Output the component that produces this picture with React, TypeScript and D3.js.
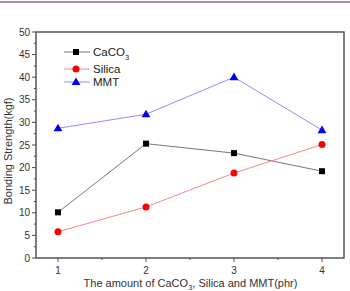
import React from "react";
import * as d3 from "d3";

const amounts = [1, 2, 3, 4];
const caco3 = [10.1, 25.3, 23.2, 19.2];
const silica = [5.8, 11.3, 18.8, 25.1];
const mmt = [28.7, 31.8, 40.0, 28.3];
const yTicks = [0, 5, 10, 15, 20, 25, 30, 35, 40, 45, 50];
const xTicks = [1, 2, 3, 4];

const W = 350;
const H = 291;
const left = 36;
const right = 344;
const top = 32;
const bottom = 258;

export default function App() {
  const x = d3.scaleLinear().domain([0.75, 4.25]).range([left, right]);
  const y = d3.scaleLinear().domain([0, 50]).range([bottom, top]);
  const line = d3
    .line<number>()
    .x((_, i) => x(amounts[i]))
    .y((d) => y(d));

  const yMinor = d3.range(2.5, 50, 5);
  const xMinor = [1.5, 2.5, 3.5];
  const font = "Arial, 'Liberation Sans', sans-serif";
  const axisColor = "#4a4a4a";

  const series = [
    { name: "CaCO", sub: "3", data: caco3, line: "#777", fill: "#000", shape: "square" },
    { name: "Silica", sub: "", data: silica, line: "#f28a8a", fill: "#ff0000", shape: "circle" },
    { name: "MMT", sub: "", data: mmt, line: "#8f8fef", fill: "#0000ee", shape: "triangle" },
  ];

  const marker = (shape: string, cx: number, cy: number, fill: string, key: string) => {
    if (shape === "square")
      return <rect key={key} x={cx - 3} y={cy - 3} width={6} height={6} fill={fill} />;
    if (shape === "circle") return <circle key={key} cx={cx} cy={cy} r={3.5} fill={fill} />;
    const tri = d3.symbol(d3.symbolTriangle, 34)();
    return <path key={key} d={tri ?? ""} transform={`translate(${cx},${cy + 0.5})`} fill={fill} />;
  };

  const legendY = [52, 69, 82];

  return (
    <svg width={W} height={H} style={{ position: "absolute", left: 0, top: 0 }} fontFamily={font}>
      <rect width={W} height={H} fill="#fff" />
      <line x1={0} x2={W} y1={2} y2={2} stroke="#9b5aa6" strokeWidth={1.5} />

      {/* frame */}
      <rect x={left} y={top} width={right - left} height={bottom - top} fill="none" stroke={axisColor} strokeWidth={1.4} />

      {/* y axis ticks */}
      {yTicks.map((t) => (
        <g key={"y" + t}>
          <line x1={left - 4} x2={left} y1={y(t)} y2={y(t)} stroke={axisColor} strokeWidth={1} />
          <text x={left - 6} y={y(t)} dy="0.35em" textAnchor="end" fontSize={10} fill="#333">
            {t}
          </text>
        </g>
      ))}
      {yMinor.map((t) => (
        <line key={"ym" + t} x1={left - 2} x2={left} y1={y(t)} y2={y(t)} stroke={axisColor} strokeWidth={1} />
      ))}

      {/* x axis ticks */}
      {xTicks.map((t) => (
        <g key={"x" + t}>
          <line x1={x(t)} x2={x(t)} y1={bottom} y2={bottom + 4} stroke={axisColor} strokeWidth={1} />
          <text x={x(t)} y={bottom + 16} textAnchor="middle" fontSize={10} fill="#333">
            {t}
          </text>
        </g>
      ))}
      {xMinor.map((t) => (
        <line key={"xm" + t} x1={x(t)} x2={x(t)} y1={bottom} y2={bottom + 2} stroke={axisColor} strokeWidth={1} />
      ))}

      {/* axis titles */}
      <text
        transform={`translate(12,151) rotate(-90)`}
        textAnchor="middle"
        fontSize={11}
        fill="#333"
      >
        Bonding Strength(kgf)
      </text>
      <text x={190.5} y={287} textAnchor="middle" fontSize={11} fill="#333">
        The amount of CaCO<tspan fontSize={7.5} dy={2.5}>3</tspan>
        <tspan dy={-2.5}>, Silica and MMT(phr)</tspan>
      </text>

      {/* series */}
      {series.map((s) => (
        <g key={s.name}>
          <path d={line(s.data) ?? ""} fill="none" stroke={s.line} strokeWidth={1} />
          {s.data.map((v, i) => marker(s.shape, x(amounts[i]), y(v), s.fill, s.name + i))}
        </g>
      ))}

      {/* legend */}
      {series.map((s, i) => (
        <g key={"lg" + s.name}>
          <line x1={64} x2={90} y1={legendY[i]} y2={legendY[i]} stroke={s.line} strokeWidth={1} />
          {marker(s.shape, 76, legendY[i], s.fill, "lm" + i)}
          <text x={93} y={legendY[i]} dy="0.35em" fontSize={11.5} fill="#222">
            {s.name}
            {s.sub && (
              <tspan fontSize={7.5} dy={4}>
                {s.sub}
              </tspan>
            )}
          </text>
        </g>
      ))}
    </svg>
  );
}
